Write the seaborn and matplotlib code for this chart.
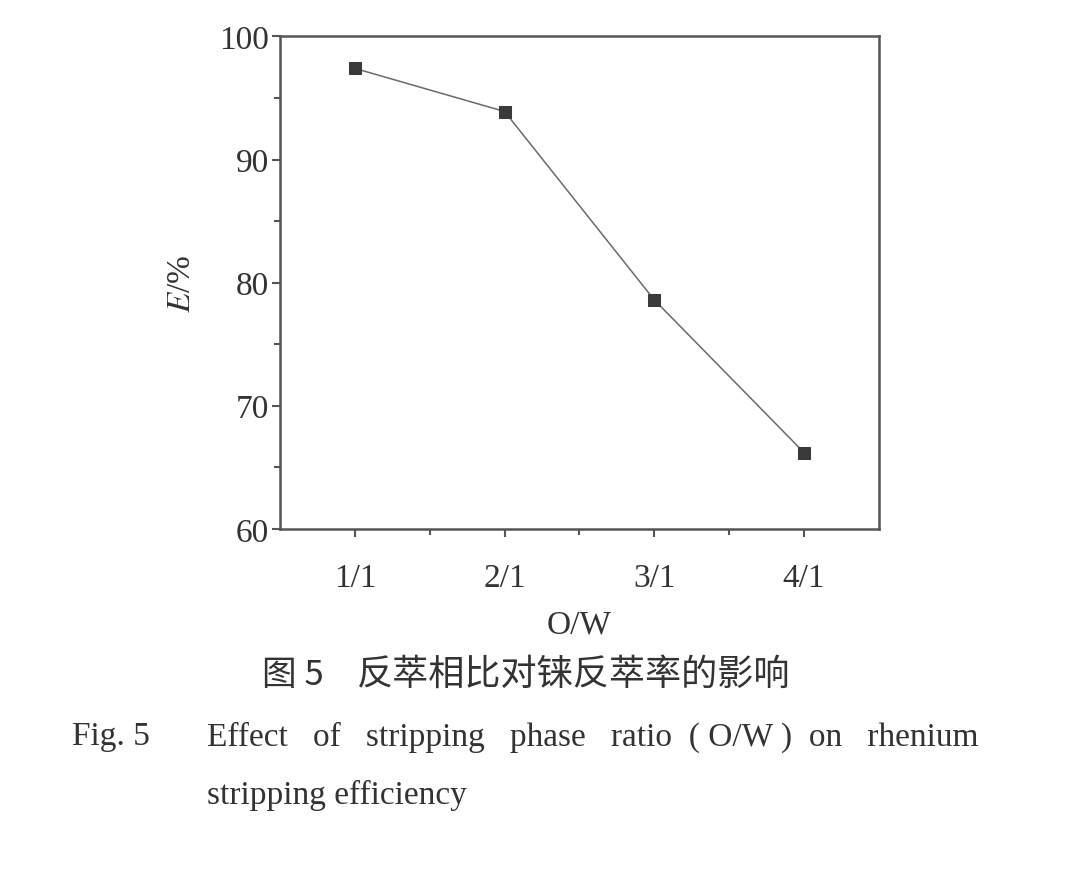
import matplotlib
matplotlib.use("Agg")
import matplotlib.pyplot as plt
import seaborn as sns
import pandas as pd

ratios = ["1/1", "2/1", "3/1", "4/1"]
positions = [1, 2, 3, 4]
efficiency = [97.4, 93.9, 78.6, 66.2]

sns.set_theme(style="white")
plt.rcParams['font.family'] = ['Liberation Serif', 'Noto Sans CJK SC', 'DejaVu Sans']
plt.rcParams['mathtext.fontset'] = 'stix'

df = pd.DataFrame({"pos": positions, "E": efficiency})

fig = plt.figure(figsize=(10.73, 8.7), dpi=100)
ax = fig.add_axes([0.261, 0.391, 0.558, 0.566])

sns.lineplot(data=df, x="pos", y="E", ax=ax, color="#6a6a6a", linewidth=1.1,
             marker="s", markersize=8, markerfacecolor="#3a3a3a",
             markeredgecolor="#3a3a3a")

ax.set_xlim(0.5, 4.5)
ax.set_ylim(60, 100)
ax.set_xticks(positions)
ax.set_xticklabels(ratios)
ax.set_xticks([1.5, 2.5, 3.5], minor=True)
ax.set_yticks([60, 70, 80, 90, 100])
ax.set_yticks([65, 75, 85, 95], minor=True)

for s in ax.spines.values():
    s.set_color("#555555")
    s.set_linewidth(1.8)
    s.set_visible(True)

ax.tick_params(axis="both", which="both", direction="out", colors="#555555",
               labelcolor="#333333", labelsize=24, bottom=True, left=True,
               top=False, right=False)
ax.tick_params(which="major", length=6, width=1.5)
ax.tick_params(which="minor", length=4, width=1.5)
ax.tick_params(axis="x", pad=18)
ax.tick_params(axis="y", pad=2)

ax.set_xlabel("O/W", fontsize=24, color="#333333", labelpad=12)
ax.set_ylabel(r"$\mathit{E}$/%", fontsize=24, color="#333333", labelpad=16)

fig.text(0.244, 0.224, "图 5", fontsize=25, color="#333333",
         ha="left", va="center", family=['Noto Sans CJK SC', 'DejaVu Sans'])
fig.text(0.333, 0.224, "反萃相比对铼反萃率的影响", fontsize=26,
         color="#333333", ha="left", va="center",
         family=['Noto Sans CJK SC', 'DejaVu Sans'])
fig.text(0.067, 0.153, "Fig. 5", fontsize=24, color="#333333",
         ha="left", va="center")
fig.text(0.193, 0.153, "Effect   of   stripping   phase   ratio  ( O/W )  on   rhenium",
         fontsize=24, color="#333333", ha="left", va="center")
fig.text(0.193, 0.086, "stripping efficiency", fontsize=24, color="#333333",
         ha="left", va="center")

fig.savefig("out.png", dpi=100)
